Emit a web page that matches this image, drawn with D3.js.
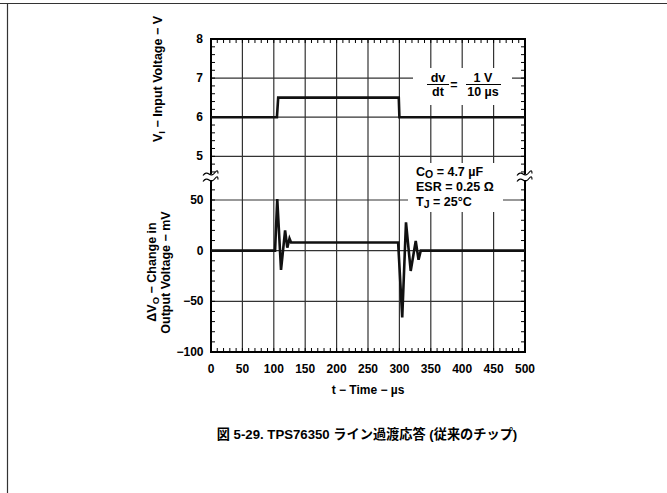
<!DOCTYPE html>
<html><head><meta charset="utf-8">
<script src="https://cdn.jsdelivr.net/npm/d3@7"></script>
<style>
html,body{margin:0;padding:0;background:#fff;}
text{font-family:"Liberation Sans",Arial,sans-serif;font-weight:bold;fill:#000;}
</style></head>
<body><svg id="c" width="667" height="493"></svg>
<script>
// ---- data ----
const timeTicks = [0,50,100,150,200,250,300,350,400,450,500];
const inputTicks = [5,6,7,8];
const outputTicks = [-100,-50,0,50];
const inputTime = [0,105,107,299,300,500];
const inputVolt = [6,6,6.5,6.5,6,6];
const outTime = [0,102,105.5,111.5,118,121.5,125,127.5,298,304.5,310.5,318,326,330.5,334,500];
const outMV   = [0,0,51,-19,20,3,12,8,8,-66,28,-20,9.5,-9,0,0];

const svg = d3.select("#c");
const L=211,R=525,T=39,B=352, breakTop=174, breakBot=180;

const x = d3.scaleLinear().domain([0,500]).range([L,R]);
const yT = d3.scaleLinear().domain([5,8]).range([156.3,T]);
const yB = d3.scaleLinear().domain([-100,50]).range([B,200]);

// page borders
svg.append("line").attr("x1",0).attr("x2",667).attr("y1",3.5).attr("y2",3.5).attr("stroke","#333").attr("stroke-width",1.2);
svg.append("line").attr("x1",7.5).attr("x2",7.5).attr("y1",3).attr("y2",493).attr("stroke","#333").attr("stroke-width",1.2);

const g = svg.append("g");

// vertical grid
g.selectAll(".vg").data(timeTicks.slice(1,-1)).join("line")
 .attr("x1",d=>x(d)).attr("x2",d=>x(d)).attr("y1",T).attr("y2",B)
 .attr("stroke","#333").attr("stroke-width",1.2);
// horizontal grid
g.selectAll(".hgt").data([5,6,7]).join("line")
 .attr("x1",L).attr("x2",R).attr("y1",d=>yT(d)).attr("y2",d=>yT(d))
 .attr("stroke","#333").attr("stroke-width",1.2);
g.selectAll(".hgb").data([-50,0,50]).join("line")
 .attr("x1",L).attr("x2",R).attr("y1",d=>yB(d)).attr("y2",d=>yB(d))
 .attr("stroke","#333").attr("stroke-width",1.2);

// minor ticks
const tk = g.append("g").attr("stroke","#000").attr("stroke-width",1);
const tMinor = d3.range(0,501,10);
tMinor.forEach(t=>{
  tk.append("line").attr("x1",x(t)).attr("x2",x(t)).attr("y1",T).attr("y2",T+4);
  tk.append("line").attr("x1",x(t)).attr("x2",x(t)).attr("y1",B).attr("y2",B-4);
});
const vMinor = d3.range(46,81,2).map(v=>v/10).filter(v=>yT(v)<breakTop-1);
const mMinor = d3.range(-100,71,10).filter(v=>yB(v)>breakBot+1);
[L,R].forEach((xx,i)=>{
  const dir = i===0?1:-1;
  vMinor.forEach(v=>tk.append("line").attr("x1",xx).attr("x2",xx+dir*4).attr("y1",yT(v)).attr("y2",yT(v)));
  mMinor.forEach(v=>tk.append("line").attr("x1",xx).attr("x2",xx+dir*4).attr("y1",yB(v)).attr("y2",yB(v)));
});

// frame
const fr = g.append("g").attr("stroke","#000").attr("stroke-width",2).attr("fill","none");
fr.append("line").attr("x1",L-1).attr("x2",R+1).attr("y1",T).attr("y2",T);
fr.append("line").attr("x1",L-1).attr("x2",R+1).attr("y1",B).attr("y2",B);
[L,R].forEach(xx=>{
  fr.append("line").attr("x1",xx).attr("x2",xx).attr("y1",T).attr("y2",breakTop);
  fr.append("line").attr("x1",xx).attr("x2",xx).attr("y1",breakBot).attr("y2",B);
});
// break symbols
const bk = g.append("g").attr("stroke","#000").attr("stroke-width",1.2).attr("fill","none");
[L,R].forEach(xx=>{
  [breakTop,breakBot].forEach(yy=>{
    bk.append("path").attr("d",`M${xx-8},${yy+1.5} q3,-4 6,-1.5 t6,-1.5 t3,1`);
  });
});

// annotation boxes (white background)
svg.append("rect").attr("x",413).attr("y",68).attr("width",99).attr("height",37).attr("fill","#fff");
svg.append("rect").attr("x",408).attr("y",163).attr("width",95).attr("height",49).attr("fill","#fff");

// data lines
const lineT = d3.line().x((d,i)=>x(inputTime[i])).y((d,i)=>yT(inputVolt[i]));
svg.append("path").attr("d",lineT(inputTime)).attr("fill","none").attr("stroke","#111").attr("stroke-width",2.6);
const lineB = d3.line().x((d,i)=>x(outTime[i])).y((d,i)=>yB(outMV[i]));
svg.append("path").attr("d",lineB(outTime)).attr("fill","none").attr("stroke","#111").attr("stroke-width",2.6).attr("stroke-linejoin","miter");

// tick labels
const fs = 12;
svg.selectAll(".xl").data(timeTicks).join("text")
 .attr("x",d=>x(d)).attr("y",373).attr("text-anchor","middle").attr("font-size",fs).text(d=>d);
svg.selectAll(".ylt").data(inputTicks).join("text")
 .attr("x",203).attr("y",d=>yT(d)+4).attr("text-anchor","end").attr("font-size",fs).text(d=>d);
svg.selectAll(".ylb").data(outputTicks).join("text")
 .attr("x",203.5).attr("y",d=>yB(d)+4).attr("text-anchor","end").attr("font-size",fs)
 .text(d=>d<0?"\u2212"+Math.abs(d):d);

// axis titles
svg.append("text").attr("x",368).attr("y",394).attr("text-anchor","middle").attr("font-size",12)
 .text("t \u2212 Time \u2212 \u00b5s");
const t1 = svg.append("text").attr("transform","translate(162,79) rotate(-90)").attr("text-anchor","middle").attr("font-size",12.5);
t1.append("tspan").text("V");
t1.append("tspan").attr("dy",3).attr("font-size",9.5).text("I");
t1.append("tspan").attr("dy",-3).text(" \u2212 Input Voltage \u2212 V");
const t2 = svg.append("text").attr("transform","translate(156,272) rotate(-90)").attr("text-anchor","middle").attr("font-size",12.5);
t2.append("tspan").text("\u0394V");
t2.append("tspan").attr("dy",3).attr("font-size",9.5).text("O");
t2.append("tspan").attr("dy",-3).text(" \u2212 Change in");
svg.append("text").attr("transform","translate(170,272.5) rotate(-90)").attr("text-anchor","middle").attr("font-size",12.5)
 .text("Output Voltage \u2212 mV");

// dv/dt annotation
const an = svg.append("g").attr("font-size",12.5);
an.append("text").attr("x",438).attr("y",82).attr("text-anchor","middle").text("dv");
an.append("text").attr("x",438).attr("y",96).attr("text-anchor","middle").text("dt");
an.append("line").attr("x1",427).attr("x2",449).attr("y1",84.5).attr("y2",84.5).attr("stroke","#000").attr("stroke-width",1);
an.append("text").attr("x",454).attr("y",89).attr("text-anchor","middle").text("=");
an.append("text").attr("x",483).attr("y",82).attr("text-anchor","middle").text("1 V");
an.append("text").attr("x",483).attr("y",96).attr("text-anchor","middle").text("10 \u00b5s");
an.append("line").attr("x1",466).attr("x2",501).attr("y1",84.5).attr("y2",84.5).attr("stroke","#000").attr("stroke-width",1);

// conditions
const cd = svg.append("g").attr("font-size",12.5);
const c1 = cd.append("text").attr("x",416).attr("y",175.5);
c1.append("tspan").text("C");
c1.append("tspan").attr("dy",2.5).attr("font-size",10.5).text("O");
c1.append("tspan").attr("dy",-2.5).text(" = 4.7 \u00b5F");
cd.append("text").attr("x",416).attr("y",191).text("ESR = 0.25 \u03a9");
const c3 = cd.append("text").attr("x",416).attr("y",205.5);
c3.append("tspan").text("T");
c3.append("tspan").attr("dy",2.5).attr("font-size",10.5).text("J");
c3.append("tspan").attr("dy",-2.5).text(" = 25\u00b0C");

// caption
svg.append("text").attr("x",367).attr("y",439).attr("text-anchor","middle")
 .attr("font-size",13.2).style("font-family","'Liberation Sans','Noto Sans CJK JP',sans-serif")
 .text("図 5-29. TPS76350 ライン過渡応答 (従来のチップ)");
</script></body></html>
